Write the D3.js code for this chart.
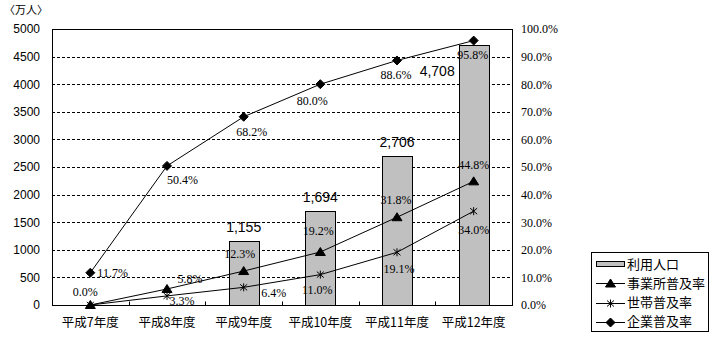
<!DOCTYPE html>
<html>
<head>
<meta charset="utf-8">
<script src="https://cdn.jsdelivr.net/npm/d3@7/dist/d3.min.js"></script>
<style>
  html, body { margin: 0; padding: 0; background: #fff; }
  svg { display: block; }
</style>
</head>
<body>
<svg id="chart" width="713" height="340"></svg>
<script>
// Fiscal years (平成7〜12年度)
const categories = ["平成7年度", "平成8年度", "平成9年度", "平成10年度", "平成11年度", "平成12年度"];
// Internet users, 万人 (no survey value for the first two years)
const users = [null, null, 1155, 1694, 2706, 4708];
// Adoption rates, %
const officeRate = [0.0, 5.8, 12.3, 19.2, 31.8, 44.8];      // 事業所普及率
const householdRate = [0.0, 3.3, 6.4, 11.0, 19.1, 34.0];   // 世帯普及率
const companyRate = [11.7, 50.4, 68.2, 80.0, 88.6, 95.8];  // 企業普及率
const leftTicks = [0, 500, 1000, 1500, 2000, 2500, 3000, 3500, 4000, 4500, 5000];
const rightTicks = [0, 10, 20, 30, 40, 50, 60, 70, 80, 90, 100];

const svg = d3.select("#chart");
const plot = { left: 52, right: 512, top: 29, bottom: 305 };

const x = d3.scaleBand().domain(categories).range([plot.left, plot.right]).padding(0);
const yL = d3.scaleLinear().domain([0, 5000]).range([plot.bottom, plot.top]);
const yR = d3.scaleLinear().domain([0, 100]).range([plot.bottom, plot.top]);
const cx = c => x(c) + x.bandwidth() / 2;
const crisp = v => Math.round(v) + 0.5;

const serif = "'Liberation Serif', 'DejaVu Serif', serif";
const sans = "'Liberation Sans', Arial, sans-serif";
const cjk = "'Noto Sans CJK JP', 'Noto Sans', sans-serif";

// dashed gridlines
svg.append("g").selectAll("line")
  .data(leftTicks.filter(t => t > 0 && t < 5000))
  .join("line")
  .attr("x1", plot.left).attr("x2", plot.right)
  .attr("y1", d => crisp(yL(d))).attr("y2", d => crisp(yL(d)))
  .attr("stroke", "#000").attr("stroke-width", 1)
  .attr("stroke-dasharray", "3,2");

// bars
const barW = x.bandwidth() * 0.39;
const barData = categories.map((c, i) => ({ c, v: users[i] })).filter(d => d.v != null);
svg.append("g").selectAll("rect")
  .data(barData)
  .join("rect")
  .attr("x", d => crisp(cx(d.c) - barW / 2))
  .attr("y", d => crisp(yL(d.v)))
  .attr("width", Math.round(barW))
  .attr("height", d => Math.round(plot.bottom - yL(d.v)))
  .attr("fill", "#c0c0c0").attr("stroke", "#000").attr("stroke-width", 1);

// frame: left / right axes, bottom axis, top border
const frame = svg.append("g").attr("stroke", "#000").attr("stroke-width", 1).attr("fill", "none");
frame.append("line").attr("x1", crisp(plot.left)).attr("x2", crisp(plot.left)).attr("y1", crisp(plot.top)).attr("y2", crisp(plot.bottom));
frame.append("line").attr("x1", crisp(plot.right)).attr("x2", crisp(plot.right)).attr("y1", crisp(plot.top)).attr("y2", crisp(plot.bottom));
frame.append("line").attr("x1", plot.left).attr("x2", plot.right + 1).attr("y1", crisp(plot.bottom)).attr("y2", crisp(plot.bottom));
frame.append("line").attr("x1", plot.left).attr("x2", plot.right + 1).attr("y1", crisp(plot.top)).attr("y2", crisp(plot.top));

// category boundary ticks on the x axis (pointing inward)
frame.selectAll("line.xt")
  .data(categories.slice(1))
  .join("line").attr("class", "xt")
  .attr("x1", d => crisp(x(d))).attr("x2", d => crisp(x(d)))
  .attr("y1", crisp(plot.bottom)).attr("y2", crisp(plot.bottom) - 4);

// left axis labels
const axisL = d3.axisLeft(yL).tickValues(leftTicks).tickSize(0).tickPadding(12).tickFormat(d3.format("d"));
const gL = svg.append("g").attr("transform", `translate(${plot.left},0)`).call(axisL);
gL.select(".domain").remove();
gL.selectAll("text").attr("font-family", sans).attr("font-size", 12).attr("fill", "#000");

// right axis labels
const axisR = d3.axisRight(yR).tickValues(rightTicks).tickSize(0).tickPadding(9).tickFormat(d => d.toFixed(1) + "%");
const gR = svg.append("g").attr("transform", `translate(${plot.right},0)`).call(axisR);
gR.select(".domain").remove();
gR.selectAll("text").attr("font-family", serif).attr("font-size", 12).attr("fill", "#000");

// x axis labels
const axisX = d3.axisBottom(x).tickSize(0).tickPadding(13);
const gX = svg.append("g").attr("transform", `translate(0,${plot.bottom})`).call(axisX);
gX.select(".domain").remove();
gX.selectAll("text").attr("font-family", cjk).attr("font-size", 12.5).attr("fill", "#000");

// unit label
svg.append("text").attr("x", 4).attr("y", 10).attr("dy", "0.35em")
  .attr("font-family", cjk).attr("font-size", 11).attr("fill", "#000").text("〈万人〉");

// markers
const markers = {
  triangle: "M0,-4.5L5,3.5L-5,3.5Z",
  diamond: "M0,-4.5L4.5,0L0,4.5L-4.5,0Z",
  star: "M0,-4V4M-3.5,-3L3.5,3M-3.5,3L3.5,-3"
};

// label placement per series: [dx, dy, anchor]
const series = [
  { name: "事業所普及率", values: officeRate, marker: "triangle",
    place: [[-5, -13, "middle"], [23, -10, "middle"], [-4, -17, "middle"], [-2, -21, "middle"], [-1, -17, "middle"], [0, -17, "middle"]] },
  { name: "世帯普及率", values: householdRate, marker: "star",
    place: [null, [15, 5, "middle"], [30, 5, "middle"], [-3, 15, "middle"], [2, 17, "middle"], [0, 19, "middle"]] },
  { name: "企業普及率", values: companyRate, marker: "diamond",
    place: [[7, 0, "start"], [0, 14, "start"], [8, 15, "middle"], [-8, 17, "middle"], [-1, 14, "middle"], [-1, 14, "middle"]] }
];

const line = d3.line().x((d, i) => cx(categories[i])).y(d => yR(d));

series.forEach(s => {
  const g = svg.append("g");
  g.append("path").datum(s.values).attr("d", line)
    .attr("fill", "none").attr("stroke", "#000").attr("stroke-width", 1);
  g.selectAll("path.m").data(s.values).join("path").attr("class", "m")
    .attr("transform", (d, i) => `translate(${cx(categories[i])},${yR(d)})`)
    .attr("d", markers[s.marker])
    .attr("fill", s.marker === "star" ? "none" : "#000")
    .attr("stroke", "#000").attr("stroke-width", 1);
});

// value labels for the rate series
series.forEach(s => {
  svg.append("g").selectAll("text")
    .data(s.values.map((v, i) => ({ v, i, p: s.place[i] })).filter(d => d.p))
    .join("text")
    .attr("x", d => cx(categories[d.i]) + d.p[0])
    .attr("y", d => yR(d.v) + d.p[1])
    .attr("dy", "0.35em")
    .attr("text-anchor", d => d.p[2])
    .attr("font-family", serif).attr("font-size", 12).attr("fill", "#000")
    .text(d => d.v.toFixed(1) + "%");
});

// bar value labels
const fmt = d3.format(",");
const barPlace = { "平成12年度": [-barW / 2 - 4, 26, "end"] };
svg.append("g").selectAll("text")
  .data(barData)
  .join("text")
  .attr("x", d => cx(d.c) + (barPlace[d.c] ? barPlace[d.c][0] : 0))
  .attr("y", d => yL(d.v) + (barPlace[d.c] ? barPlace[d.c][1] : -14))
  .attr("dy", "0.35em")
  .attr("text-anchor", d => barPlace[d.c] ? barPlace[d.c][2] : "middle")
  .attr("font-family", sans).attr("font-size", 14).attr("fill", "#000")
  .text(d => fmt(d.v));

// legend
const lg = svg.append("g");
lg.append("rect").attr("x", 591.5).attr("y", 252.5).attr("width", 117).attr("height", 79)
  .attr("fill", "#fff").attr("stroke", "#000");
const legendItems = [{ name: "利用人口", marker: null }].concat(series);
legendItems.forEach((s, i) => {
  const yy = 264 + i * 19.3;
  const g = lg.append("g");
  if (!s.marker) {
    g.append("rect").attr("x", 596.5).attr("y", Math.round(yy) - 2.5).attr("width", 28).attr("height", 5)
      .attr("fill", "#c0c0c0").attr("stroke", "#000");
  } else {
    g.append("line").attr("x1", 596).attr("x2", 625).attr("y1", crisp(yy)).attr("y2", crisp(yy))
      .attr("stroke", "#000");
    g.append("path").attr("transform", `translate(610.5,${crisp(yy)})`).attr("d", markers[s.marker])
      .attr("fill", s.marker === "star" ? "none" : "#000").attr("stroke", "#000");
  }
  g.append("text").attr("x", 627).attr("y", yy).attr("dy", "0.35em")
    .attr("font-family", cjk).attr("font-size", 13).attr("fill", "#000").text(s.name);
});
</script>
</body>
</html>
